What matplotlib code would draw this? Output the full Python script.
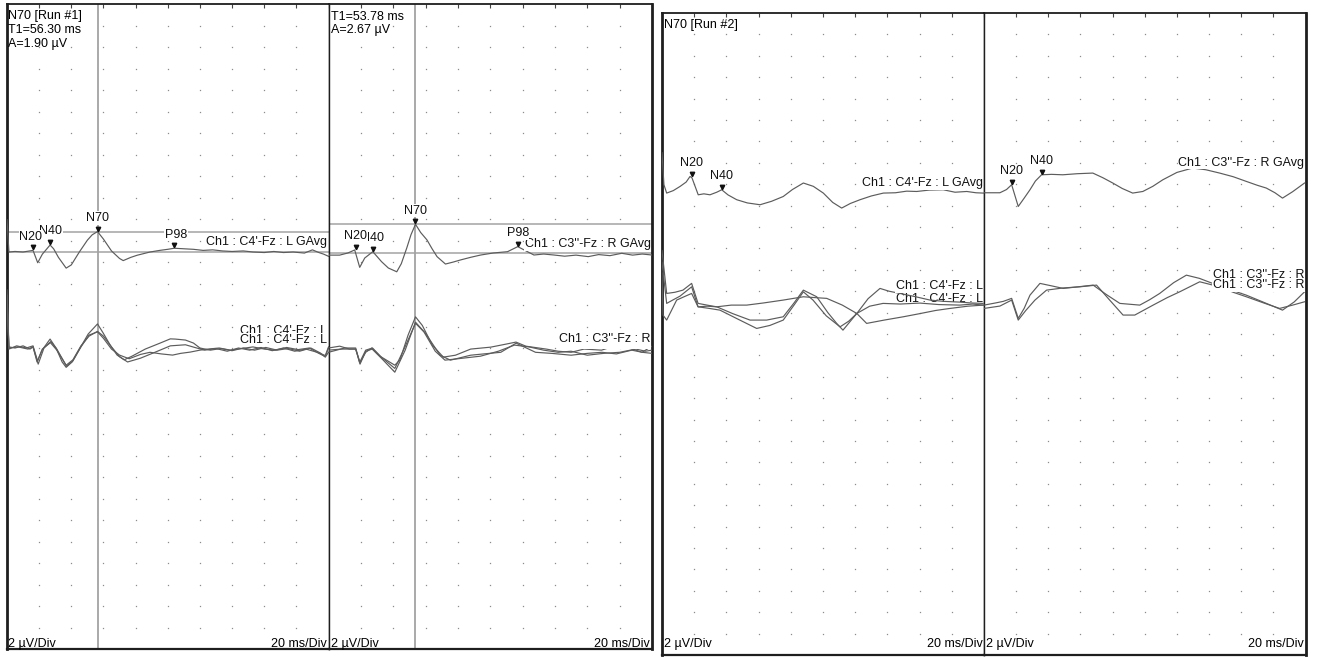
import matplotlib
matplotlib.use("Agg")
import matplotlib.pyplot as plt
import numpy as np

plt.rcParams['font.family'] = ['Liberation Sans', 'DejaVu Sans']

W, H, DPI = 1319, 658, 100

# sweep settings: 10 x 20 ms horizontally, 30 x 2 uV vertically
MS_PER_DIV = 20
UV_PER_DIV = 2
N_XDIV = 10
N_YDIV = 30

# ---------------- Run #1, left: C4'-Fz : L ----------------
a_gavg_t = [0, 1.2, 5, 10, 16.2, 19.1, 22, 26.8, 29, 32, 36.8, 40, 45, 50, 53, 56.3, 60, 65, 70, 72.3,
            77, 81, 89, 95, 100, 104, 110, 116, 122, 128, 134, 140, 147, 153, 160, 166, 172, 178,
            185, 190, 194, 197, 200]
a_gavg_v = [3.0, 0.0, 0.05, 0.0, 0.15, -1.0, -0.2, 0.65, 0.3, -0.5, -1.5, -1.2, 0.0, 1.1, 1.6, 1.90,
            1.2, 0.1, -0.6, -0.8, -0.5, -0.3, 0.0, 0.15, 0.25, 0.35, 0.3, 0.25, 0.15, 0.2, 0.1, 0.05,
            0.1, 0.0, -0.05, 0.05, -0.05, 0.0, -0.1, 0.2, -0.05, -0.2, -0.4]

a_ind1_t = [0, 1.2, 5, 10, 14.3, 16.2, 18.7, 21.8, 26.8, 30.5, 34.3, 36.8, 40.5, 45.5, 50.5, 56.3,
            59.8, 64.2, 68.5, 72.9, 77.9, 86, 95.3, 101.6, 104.7, 111, 116, 120, 126.5, 133, 140,
            147, 154, 161, 168, 175, 182, 189, 195, 198, 200]
a_ind1_v = [5.5, 0.2, 0.1, 0.3, 0.0, 0.2, -1.2, -0.1, 0.93, 0.1, -1.2, -1.7, -1.2, 0.1, 1.4, 2.34,
            1.5, 0.37, -0.56, -1.0, -0.65, 0.0, 0.56, 0.95, 0.93, 0.84, 0.56, 0.1, -0.1, 0.05, -0.15,
            0.1, -0.1, 0.15, -0.1, 0.05, -0.2, 0.1, -0.37, -0.75, -0.3]

a_ind2_t = [0, 1.2, 6, 12, 16.2, 19, 22, 27, 31, 36.8, 41, 46, 51, 56.3, 60, 65, 70, 75, 83, 92,
            101.6, 111, 118, 123, 130, 137, 144, 151, 158, 165, 172, 179, 186, 193, 198, 200]
a_ind2_v = [5.0, 0.0, 0.3, 0.1, 0.3, -1.1, 0.0, 0.6, -0.1, -1.5, -1.0, 0.3, 1.2, 1.65, 1.2, 0.2,
            -0.7, -1.2, -0.85, -0.3, 0.3, 0.4, 0.1, -0.1, 0.05, -0.2, 0.1, -0.1, 0.15, -0.15, 0.1,
            -0.2, 0.0, -0.3, -0.6, 0.2]

a_ind3_t = [0, 1.2, 7, 13, 16.2, 19.4, 23, 27.2, 31, 37, 41, 46, 51, 56.3, 60, 65, 70, 76, 83, 89,
            96, 103, 108, 114, 120, 125, 132, 139, 146, 153, 160, 167, 174, 181, 188, 194, 198, 200]
a_ind3_v = [4.5, 0.1, 0.2, 0.0, 0.2, -1.4, 0.1, 0.7, 0.0, -1.6, -1.1, 0.2, 1.3, 1.6, 1.0, 0.0,
            -0.56, -0.9, -0.5, -0.3, -0.45, -0.56, -0.4, -0.28, -0.1, 0.0, 0.1, -0.1, 0.05, 0.2,
            0.0, -0.1, 0.15, -0.05, 0.1, -0.4, -0.7, 0.1]

a_peak_names = ["N20", "N40", "N70", "P98"]
a_peak_t = [16.2, 27.0, 56.30, 104.0]
a_peak_v = [0.15, 0.65, 1.90, 0.35]

# ---------------- Run #1, right: C3''-Fz : R ----------------
b_gavg_t = [0, 6.9, 12, 16.2, 19.3, 22.4, 27.4, 32.8, 37, 42.2, 45, 48.4, 51, 53.78, 57, 60.9, 64,
            67.1, 72.3, 77, 81.6, 88, 94.1, 102, 110.7, 117, 122, 127, 133, 139.4, 146, 153, 160.6,
            167, 174, 181.3, 188, 194, 200]
b_gavg_v = [-0.2, -0.2, 0.0, 0.28, -1.34, -0.47, 0.12, -0.81, -1.4, -1.75, -1.0, 0.47, 1.7, 2.67,
            1.9, 1.21, 0.4, -0.34, -1.03, -0.85, -0.65, -0.4, -0.19, 0.0, 0.12, 0.59, 0.2, -0.19,
            -0.1, -0.19, -0.3, -0.2, -0.34, -0.15, -0.25, -0.03, -0.2, -0.1, -0.19]

b_ind1_t = [0, 6.9, 13, 16.8, 19.3, 23, 26.8, 31.8, 41, 44.2, 49.2, 53.78, 58, 64.2, 71, 78.5,
            87.9, 100.3, 109.7, 115.9, 122, 134.6, 142, 150, 158, 168.8, 175, 181, 188, 193.8, 200]
b_ind1_v = [0.2, 0.37, 0.1, 0.1, -1.2, -0.2, 0.2, -0.56, -1.4, -0.9, 1.4, 3.1, 2.3, 0.47, -0.65,
            -0.47, 0.1, 0.28, 0.56, 0.75, 0.37, 0.1, -0.1, -0.2, 0.1, 0.0, 0.3, 0.47, 0.1, -0.2, 0.37]

b_ind2_t = [0, 10, 16.8, 19.5, 23, 27, 33, 41, 47.4, 53.78, 59.8, 69, 75.4, 87.9, 96, 106.5, 116,
            128, 138, 150, 160, 169, 178, 187.5, 194, 200]
b_ind2_v = [-0.2, 0.2, 0.2, -1.3, -0.1, 0.1, -0.8, -2.05, 0.0, 2.6, 1.6, -0.47, -0.93, -0.47,
            -0.35, -0.2, 0.65, -0.2, -0.3, -0.47, -0.3, -0.2, -0.35, 0.0, -0.2, -0.3]

b_ind3_t = [0, 8, 16.8, 19.4, 23, 27.2, 33, 41, 47, 53.78, 59, 66, 72, 80, 94, 105, 115, 124, 133,
            142, 150, 160, 170, 180, 190, 196, 200]
b_ind3_v = [0.0, 0.1, 0.1, -1.1, 0.0, 0.2, -0.7, -1.7, 0.2, 2.5, 1.7, -0.1, -0.93, -0.8, -0.56,
            -0.1, 0.47, 0.3, 0.0, -0.2, -0.1, -0.47, -0.3, -0.2, 0.1, -0.1, 0.0]

b_peak_names = ["N20", "N40", "N70", "P98"]
b_peak_t = [16.8, 27.4, 53.78, 117.0]
b_peak_v = [0.28, 0.12, 2.67, 0.59]

# ---------------- Run #2, left: C4'-Fz : L ----------------
c_gavg_t = [0, 1.2, 2.9, 7, 11.2, 15, 17.4, 18.6, 22.5, 26, 29.8, 34, 37.1, 41, 46.4, 53, 60.9, 68,
            75.3, 81, 87.8, 94, 100.2, 106, 111.6, 117, 123, 130, 137.5, 145, 152, 158.2, 166,
            174.7, 182, 189.3, 195, 199.6]
c_gavg_v = [3.74, 0.75, -0.03, 0.2, 0.59, 1.0, 1.52, 1.4, -0.19, -0.1, -0.19, 0.05, 0.28, -0.2,
            -0.65, -0.95, -1.12, -0.8, -0.35, 0.3, 0.91, 0.6, -0.03, -0.9, -1.43, -1.0, -0.65,
            -0.3, -0.03, 0.0, 0.15, 0.12, 0.25, 0.28, 0.05, 0.12, 0.0, -0.03]

c_ind1_t = [0, 2.9, 8, 13, 18.4, 22.4, 28, 34, 44, 54.7, 65, 75.3, 82, 87.8, 96.1, 103, 108.5,
            112.4, 121, 128, 135.4, 141, 147.8, 157, 166.5, 175, 185, 192, 199.4]
c_ind1_v = [5.1, 1.09, 1.2, 1.4, 2.03, 0.16, 0.0, -0.16, -0.8, -1.4, -1.4, -1.09, 0.2, 1.4, 0.78,
            -0.7, -1.71, -2.34, -0.78, 0.6, 1.56, 1.3, 1.09, 0.8, 0.47, 0.35, 0.28, 0.2, 0.16]

c_ind2_t = [0, 2.9, 7, 11.2, 18.4, 22.4, 29, 36, 47, 58.8, 67, 75.3, 82, 87.8, 93.8, 102, 110.6,
            116, 121, 129, 137.3, 148, 160.2, 172, 185, 193, 199.4]
c_ind2_v = [4.0, 0.16, 0.5, 0.84, 1.71, -0.16, -0.3, -0.47, -1.3, -2.18, -1.9, -1.4, 0.0, 1.24,
            0.47, -1.0, -2.03, -1.5, -0.78, -0.1, 0.16, 0.1, 0.19, 0.05, 0.0, 0.1, 0.0]

c_ind3_t = [0, 0.6, 2.9, 9.1, 14, 18.4, 22.4, 28, 34, 43, 52.6, 63, 75.3, 87.8, 95, 102.3, 112,
            121, 127.1, 138, 149.9, 160, 170, 178.9, 190, 199.6]
c_ind3_v = [3.0, -0.93, -1.4, 0.47, 0.8, 1.09, -0.16, -0.1, -0.16, 0.0, 0.0, 0.2, 0.47, 0.78,
            0.7, 0.63, 0.0, -0.78, -1.71, -1.4, -1.09, -0.8, -0.5, -0.31, -0.1, 0.0]

c_peak_names = ["N20", "N40"]
c_peak_t = [18.4, 37.1]
c_peak_v = [1.52, 0.28]

# ---------------- Run #2, right: C3''-Fz : R ----------------
d_gavg_t = [0, 9.9, 14, 17.2, 21.3, 25, 28.6, 32, 35.8, 42, 49, 58, 67.7, 74, 80.1, 86, 92.5, 98.8,
            105, 111.2, 120, 129.8, 138, 146.6, 155, 163.2, 170, 175.6, 181, 185.7, 192, 199.4]
d_gavg_v = [0.0, 0.0, 0.3, 0.75, -1.28, -0.5, 0.28, 1.1, 1.68, 1.72, 1.68, 1.78, 1.84, 1.4, 0.91,
            0.4, -0.03, 0.12, 0.6, 1.21, 1.9, 2.31, 2.15, 1.84, 1.5, 1.06, 0.7, 0.44, 0.0, -0.5,
            0.1, 0.91]

d_ind1_t = [0, 6.8, 12, 17.2, 21.3, 25, 28.6, 34.8, 42, 49.3, 58, 67.9, 76, 84.5, 96.9, 103,
            109.3, 118, 125.9, 134, 142.2, 152, 163.2, 175, 185.7, 193, 199.4]
d_ind1_v = [0.0, 0.19, 0.35, 0.63, -1.24, -0.3, 0.93, 2.03, 1.8, 1.56, 1.7, 1.87, 1.0, 0.16, 0.0,
            0.5, 1.09, 2.1, 2.8, 2.5, 2.03, 1.5, 0.93, 0.2, -0.47, 0.3, 1.24]

d_ind2_t = [0, 9.9, 17.2, 21.3, 26, 31.7, 38.9, 49, 59.6, 70, 78, 86.5, 93.8, 105.2, 114, 121.7,
            134.2, 146.6, 155, 163.2, 174, 183.9, 192, 199.4]
d_ind2_v = [-0.31, -0.09, 0.47, -1.4, -0.5, 0.47, 1.4, 1.6, 1.71, 1.87, 0.5, -0.93, -0.93, 0.0,
            0.7, 1.24, 2.18, 1.71, 1.2, 0.78, 0.2, -0.31, 0.0, 0.31]

d_peak_names = ["N20", "N40"]
d_peak_t = [17.2, 35.8]
d_peak_v = [0.75, 1.68]

# trace baselines inside each sweep (uV, 0 = top edge)
A_GAVG_BASE, A_IND_BASE = -23.07, -32.1
B_GAVG_BASE, B_IND_BASE = -23.16, -32.2
C_GAVG_BASE, C_IND_BASE = -16.8, -27.3
D_GAVG_BASE, D_IND_BASE = -16.8, -27.3

TRACE = '#5c5c5c'
CURSOR = '#a3a3a3'
FRAME = '#1e1e1e'
FS = 9

fig = plt.figure(figsize=(W / DPI, H / DPI), dpi=DPI)
fig.patch.set_facecolor('white')


def fx(px):
    return px / W


def fy(py):
    return 1 - py / H


def make_panel(left, top, right, bottom, lw_left, lw_right):
    ax = fig.add_axes([left / W, 1 - bottom / H, (right - left) / W, (bottom - top) / H])
    ax.set_xlim(0, N_XDIV * MS_PER_DIV)
    ax.set_ylim(-N_YDIV * UV_PER_DIV, 0)
    ax.set_xticks(np.arange(0, N_XDIV + 1) * MS_PER_DIV)
    ax.set_yticks([])
    ax.tick_params(axis='x', direction='in', length=3, width=0.8, color='#444444',
                   top=True, bottom=False, labelbottom=False, labeltop=False)
    for side, lw in (('left', lw_left), ('right', lw_right), ('top', 1.3), ('bottom', 1.6)):
        ax.spines[side].set_linewidth(lw)
        ax.spines[side].set_color(FRAME)
    # dotted division grid
    gx, gy = np.meshgrid(np.arange(1, N_XDIV) * MS_PER_DIV, -np.arange(1, N_YDIV) * UV_PER_DIV)
    ax.plot(gx.ravel(), gy.ravel(), linestyle='none', marker='s', markersize=0.9,
            markeredgewidth=0, color='#8c8c8c', zorder=1)
    return ax


def trace(ax, t, v, base, z=3):
    ax.plot(t, np.asarray(v) + base, color=TRACE, lw=0.85, zorder=z)


def chan_label(ax, text, y, z=5):
    ax.text(199.3, y, text, ha='right', va='baseline', fontsize=FS, color='#111111', zorder=z,
            bbox=dict(boxstyle='square,pad=0.05', fc='white', ec='none'))


def peaks(ax, names, ts, vs, base, dxs=None):
    for i, (n, t, v) in enumerate(zip(names, ts, vs)):
        ym = base + v + 0.28
        ax.plot([t], [ym], marker='v', markersize=3.2, color='#111111', linestyle='none', zorder=6)
        dx = 0 if dxs is None else dxs[i]
        ax.text(t + dx, ym + 0.7, n, ha='center', va='baseline', fontsize=FS, color='#111111',
                zorder=7 + i * (-1 if n == 'N40' else 1),
                bbox=dict(boxstyle='square,pad=0.05', fc='white', ec='none'))


# ---------- Run #1 ----------
axA = make_panel(7, 4, 328.5, 649, 2.0, 1.0)
axB = make_panel(328.5, 4, 652, 649, 1.0, 2.0)

for ax, tcur, base, amp in ((axA, a_peak_t[2], A_GAVG_BASE, a_peak_v[2]),
                            (axB, b_peak_t[2], B_GAVG_BASE, b_peak_v[2])):
    ax.axvline(tcur, color=CURSOR, lw=1.3, zorder=2)
    ax.axhline(base, color=CURSOR, lw=1.1, zorder=2)
    ax.axhline(base + amp, color=CURSOR, lw=1.1, zorder=2)

trace(axA, a_gavg_t, a_gavg_v, A_GAVG_BASE)
for t, v in ((a_ind1_t, a_ind1_v), (a_ind2_t, a_ind2_v), (a_ind3_t, a_ind3_v)):
    trace(axA, t, v, A_IND_BASE)
trace(axB, b_gavg_t, b_gavg_v, B_GAVG_BASE)
for t, v in ((b_ind1_t, b_ind1_v), (b_ind2_t, b_ind2_v), (b_ind3_t, b_ind3_v)):
    trace(axB, t, v, B_IND_BASE)

chan_label(axA, "Ch1 : C4'-Fz : L GAvg", A_GAVG_BASE + 0.65)
chan_label(axA, "Ch1 : C4'-Fz : L", A_IND_BASE + 1.37)
chan_label(axA, "Ch1 : C4'-Fz : L", A_IND_BASE + 0.59, z=6)
chan_label(axB, "Ch1 : C3''-Fz : R GAvg", B_GAVG_BASE + 0.53)
chan_label(axB, "Ch1 : C3''-Fz : R", B_IND_BASE + 0.45)
chan_label(axB, "Ch1 : C3''-Fz : R", B_IND_BASE + 0.78, z=6)

peaks(axA, a_peak_names, a_peak_t, a_peak_v, A_GAVG_BASE, dxs=[-1.5, 0, 0, 1])
peaks(axB, b_peak_names, b_peak_t, b_peak_v, B_GAVG_BASE)

fig.text(fx(8), fy(19.5), "N70 [Run #1]", fontsize=FS, va='baseline', ha='left')
fig.text(fx(8), fy(33), f"T1={a_peak_t[2]:.2f} ms", fontsize=FS, va='baseline', ha='left')
fig.text(fx(8), fy(46.5), f"A={a_peak_v[2]:.2f} µV", fontsize=FS, va='baseline', ha='left')
fig.text(fx(331), fy(19.5), f"T1={b_peak_t[2]:.2f} ms", fontsize=FS, va='baseline', ha='left')
fig.text(fx(331), fy(33), f"A={b_peak_v[2]:.2f} µV", fontsize=FS, va='baseline', ha='left')
fig.text(fx(8), fy(647), "2 µV/Div", fontsize=FS, va='baseline', ha='left')
fig.text(fx(327), fy(647), "20 ms/Div", fontsize=FS, va='baseline', ha='right')
fig.text(fx(331), fy(647), "2 µV/Div", fontsize=FS, va='baseline', ha='left')
fig.text(fx(650), fy(647), "20 ms/Div", fontsize=FS, va='baseline', ha='right')

# ---------- Run #2 ----------
axC = make_panel(662, 13, 984, 655, 2.0, 1.0)
axD = make_panel(984, 13, 1305.5, 655, 1.0, 2.0)

trace(axC, c_gavg_t, c_gavg_v, C_GAVG_BASE)
for t, v in ((c_ind1_t, c_ind1_v), (c_ind2_t, c_ind2_v), (c_ind3_t, c_ind3_v)):
    trace(axC, t, v, C_IND_BASE, z=4)
trace(axD, d_gavg_t, d_gavg_v, D_GAVG_BASE)
for t, v in ((d_ind1_t, d_ind1_v), (d_ind2_t, d_ind2_v)):
    trace(axD, t, v, D_IND_BASE)

chan_label(axC, "Ch1 : C4'-Fz : L GAvg", C_GAVG_BASE + 0.59)
chan_label(axC, "Ch1 : C4'-Fz : L", C_IND_BASE + 1.5)
chan_label(axC, "Ch1 : C4'-Fz : L", C_IND_BASE + 0.25, z=3.5)
chan_label(axD, "Ch1 : C3''-Fz : R GAvg", D_GAVG_BASE + 2.52)
chan_label(axD, "Ch1 : C3''-Fz : R", D_IND_BASE + 2.49)
chan_label(axD, "Ch1 : C3''-Fz : R", D_IND_BASE + 1.56, z=6)

peaks(axC, c_peak_names, c_peak_t, c_peak_v, C_GAVG_BASE)
peaks(axD, d_peak_names, d_peak_t, d_peak_v, D_GAVG_BASE)

fig.text(fx(664), fy(28), "N70 [Run #2]", fontsize=FS, va='baseline', ha='left')
fig.text(fx(664), fy(647), "2 µV/Div", fontsize=FS, va='baseline', ha='left')
fig.text(fx(983), fy(647), "20 ms/Div", fontsize=FS, va='baseline', ha='right')
fig.text(fx(986), fy(647), "2 µV/Div", fontsize=FS, va='baseline', ha='left')
fig.text(fx(1304), fy(647), "20 ms/Div", fontsize=FS, va='baseline', ha='right')

fig.savefig("out.png", dpi=DPI, facecolor='white')
